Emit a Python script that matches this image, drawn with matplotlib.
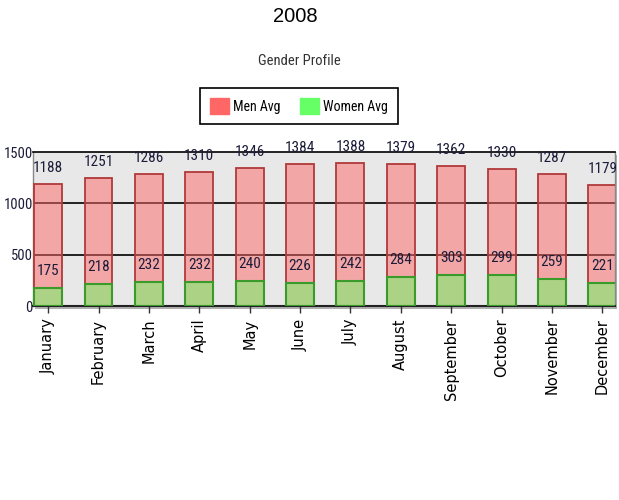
import matplotlib
matplotlib.use("Agg")
import matplotlib.pyplot as plt
from matplotlib import font_manager as fm
from matplotlib.patches import Rectangle, Patch

months = ["January", "February", "March", "April", "May", "June", "July",
          "August", "September", "October", "November", "December"]
men_avg = [1188, 1251, 1286, 1310, 1346, 1384, 1388, 1379, 1362, 1330, 1287, 1179]
women_avg = [175, 218, 232, 232, 240, 226, 242, 284, 303, 299, 259, 221]
yticks = [0, 500, 1000, 1500]
title = "2008"
subtitle = "Gender Profile"
series_names = ["Men Avg", "Women Avg"]

names = {f.name for f in fm.fontManager.ttflist}
NARROW = None
for c in ["Liberation Sans Narrow", "Roboto Condensed", "Open Sans Condensed", "Noto Sans Condensed"]:
    if c in names:
        NARROW = c
        break
scale = 1.0
if NARROW is None:
    NARROW = "Liberation Sans"
    scale = 0.82

W, H = 619, 500
fig = plt.figure(figsize=(W / 100, H / 100), dpi=100)
fig.patch.set_facecolor("white")

ax_l, ax_r, ax_t, ax_b = 33, 615, 152, 306
ax = fig.add_axes([ax_l / W, 1 - ax_b / H, (ax_r - ax_l) / W, (ax_b - ax_t) / H])

# shadow behind plot area
shadow = Rectangle(((ax_l + 2) / W, 1 - (ax_b + 3) / H), (ax_r - ax_l) / W, (ax_b - ax_t) / H,
                   transform=fig.transFigure, facecolor="#b0b0b0", edgecolor="none", zorder=-5)
fig.patches.append(shadow)

ax.set_facecolor("#e8e8e8")
x = list(range(len(months)))
ax.set_xlim(-0.30, 11.25)
ax.set_ylim(0, 1500)

for yv in yticks[1:3]:
    ax.axhline(yv, color="black", lw=1.2, zorder=1)

ax.bar(x, men_avg, width=0.555, color="#ff6666", alpha=0.5, edgecolor="none", zorder=2)
ax.bar(x, men_avg, width=0.555, facecolor="none", edgecolor="#b03a3a", lw=1.3, zorder=3)
ax.bar(x, women_avg, width=0.555, color="#66ff66", alpha=0.5, edgecolor="none", zorder=4)
ax.bar(x, women_avg, width=0.555, facecolor="none", edgecolor="#3a9a2a", lw=1.5, zorder=5)

lblcol = "#1c1c3a"
for xi, m, w in zip(x, men_avg, women_avg):
    ax.annotate(str(m), (xi, m), xytext=(0, 16), textcoords="offset pixels",
                ha="center", va="center", fontsize=11 * scale, family=NARROW,
                color=lblcol, zorder=10, annotation_clip=False)
    ax.annotate(str(w), (xi, w), xytext=(0, 17), textcoords="offset pixels",
                ha="center", va="center", fontsize=11 * scale, family=NARROW,
                color=lblcol, zorder=10, annotation_clip=False)

ax.set_yticks(yticks)
ax.set_yticklabels([str(v) for v in yticks], family=NARROW, fontsize=10.5 * scale, color="#1c1c3a")
ax.tick_params(axis="y", length=0, pad=0)
ax.set_xticks(x)
ax.set_xticklabels(months, rotation=90, family="DejaVu Sans", fontsize=10.5, color="black")
ax.tick_params(axis="x", length=5, width=1, pad=4, color="#333333")

for s in ["left", "right"]:
    ax.spines[s].set_color("#888888")
    ax.spines[s].set_linewidth(1)
ax.spines["top"].set_color("black")
ax.spines["top"].set_linewidth(1.2)
ax.spines["bottom"].set_color("#222222")
ax.spines["bottom"].set_linewidth(1.5)

fig.text(295 / W, 1 - 17 / H, title, ha="center", va="center", fontsize=14.5,
         family="Liberation Sans", color="black")
fig.text(299 / W, 1 - 61 / H, subtitle, ha="center", va="center", fontsize=10.5 * scale,
         family=NARROW, color="#333333")

handles = [Patch(facecolor="#ff6666", edgecolor="#ff6666"),
           Patch(facecolor="#66ff66", edgecolor="#66ff66")]
leg = fig.legend(handles, series_names, loc="center", bbox_to_anchor=(299 / W, 1 - 106 / H),
                 ncol=2, frameon=True, fancybox=False, framealpha=1, edgecolor="black",
                 prop={"family": NARROW, "size": 10 * scale}, handlelength=1.35, handleheight=1.35,
                 handletextpad=0.3, columnspacing=1.4, borderpad=0.75, borderaxespad=0)
leg.get_frame().set_linewidth(1.2)

fig.savefig("out.png", dpi=100)
